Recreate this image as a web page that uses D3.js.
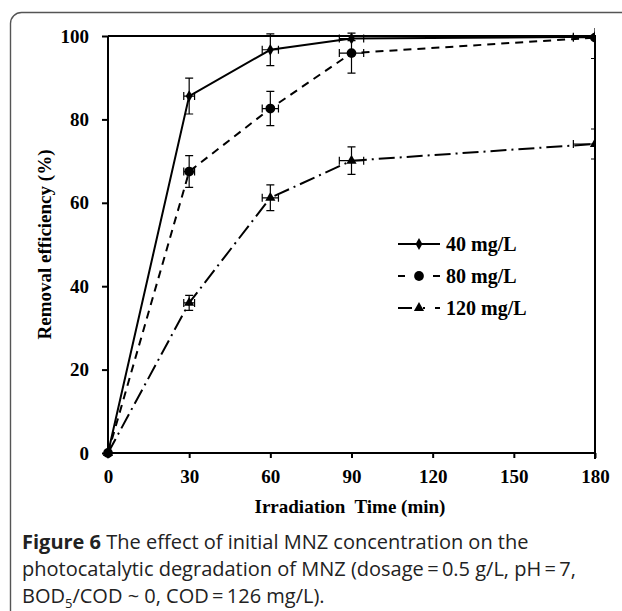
<!DOCTYPE html>
<html>
<head>
<meta charset="utf-8">
<script src="https://cdn.jsdelivr.net/npm/d3@7/dist/d3.min.js"></script>
<style>
  body { margin: 0; background: #fff; }
  svg { display: block; }
</style>
</head>
<body>
<div id="board"></div>
<script>
'use strict';

// irradiation time (min) and removal efficiency (%)
var times = [0, 30, 60, 90, 180];
var series = ['40 mg/L', '80 mg/L', '120 mg/L'];
var eff40 = [0, 85.6, 96.7, 99.4, 99.8];
var eff80 = [0, 67.5, 82.6, 95.9, 99.6];
var eff120 = [0, 36.0, 61.2, 70.1, 74.1];
var errY40 = [0, 4.3, 3.8, 0.5, 0];
var errY80 = [0, 3.8, 4.1, 4.8, 5.0];
var errY120 = [0, 1.8, 3.1, 3.3, 3.6];
var errX = [0, 2, 3, 4.5, 8];
var xTicks = [0, 30, 60, 90, 120, 150, 180];
var yTicks = [0, 20, 40, 60, 80, 100];

var W = 622, H = 611;
var serif = '"Liberation Serif", "Times New Roman", serif';

var svg = d3.select('#board')
    .append('svg')
    .attr('width', W)
    .attr('height', H);

// rounded frame, cut off by the page on the right and bottom
svg.append('rect')
    .attr('x', 10.5)
    .attr('y', 12.5)
    .attr('width', 640)
    .attr('height', 640)
    .attr('rx', 11)
    .attr('fill', 'none')
    .attr('stroke', '#555')
    .attr('stroke-width', 1.4);

var x = d3.scaleLinear().domain([0, 180]).range([108, 595]);
var y = d3.scaleLinear().domain([0, 100]).range([453, 36]);

svg.append('clipPath')
    .attr('id', 'plot')
    .append('rect')
    .attr('x', x(0) - 8)
    .attr('y', y(100) - 8)
    .attr('width', x(180) - x(0) + 8)
    .attr('height', y(0) - y(100) + 16);

// top and right border of the plot area
svg.append('path')
    .attr('d', 'M' + x(0) + ',' + y(100) + 'H' + x(180) + 'V' + (y(0) + 6))
    .attr('fill', 'none')
    .attr('stroke', '#000')
    .attr('stroke-width', 2);

var xAxis = svg.append('g')
    .attr('transform', 'translate(0,' + y(0) + ')')
    .call(d3.axisBottom(x).tickValues(xTicks).tickSize(5).tickPadding(12));

var yAxis = svg.append('g')
    .attr('transform', 'translate(' + x(0) + ',0)')
    .call(d3.axisLeft(y).tickValues(yTicks).tickSize(6).tickPadding(13));

[xAxis, yAxis].forEach(function(g) {
    g.select('.domain').attr('stroke-width', 2);
    g.selectAll('.tick line').attr('stroke-width', 2);
    g.selectAll('.tick text')
        .attr('font-family', serif)
        .attr('font-weight', 'bold')
        .attr('font-size', 19)
        .attr('fill', '#000');
});
xAxis.select('.domain').attr('d', 'M' + x(0) + ',0H' + x(180));
yAxis.select('.domain').attr('d', 'M0,' + y(0) + 'V' + y(100));

svg.append('text')
    .attr('x', 350)
    .attr('y', 513)
    .attr('text-anchor', 'middle')
    .attr('font-family', serif)
    .attr('font-weight', 'bold')
    .attr('font-size', 19)
    .attr('xml:space', 'preserve')
    .text('Irradiation  Time (min)');

svg.append('text')
    .attr('transform', 'translate(51,' + y(50) + ') rotate(-90)')
    .attr('text-anchor', 'middle')
    .attr('font-family', serif)
    .attr('font-weight', 'bold')
    .attr('font-size', 19)
    .text('Removal efficiency (%)');

var styles = [
    { vals: eff40, err: errY40, dash: null, marker: d3.symbolDiamond, size: 40 },
    { vals: eff80, err: errY80, dash: '8,6', marker: d3.symbolCircle, size: 75 },
    { vals: eff120, err: errY120, dash: '16,5,2,5', marker: d3.symbolTriangle, size: 45 }
];
var legendDash = ['none', '7,28,7', '14,11,2,10,5,100'];

var line = d3.line()
    .x(function(d) { return x(d.t); })
    .y(function(d) { return y(d.v); });

var plot = svg.append('g').attr('clip-path', 'url(#plot)');

styles.forEach(function(s) {
    var pts = times.map(function(t, i) {
        return { t: t, v: s.vals[i], ey: s.err[i], ex: errX[i] };
    });

    plot.append('path')
        .datum(pts)
        .attr('d', line)
        .attr('fill', 'none')
        .attr('stroke', '#000')
        .attr('stroke-width', 2)
        .attr('stroke-dasharray', s.dash);

    var bars = plot.append('g')
        .selectAll('g')
        .data(pts.filter(function(d) { return d.ey > 0 || d.ex > 0; }))
        .enter()
        .append('g')
        .attr('stroke', '#000')
        .attr('stroke-width', 1.2)
        .attr('fill', 'none');

    bars.filter(function(d) { return d.ey > 0; })
        .append('path')
        .attr('d', function(d) {
            var cx = x(d.t), y0 = y(d.v - d.ey), y1 = y(d.v + d.ey);
            return 'M' + cx + ',' + y0 + 'V' + y1 +
                'M' + (cx - 4) + ',' + y0 + 'h8M' + (cx - 4) + ',' + y1 + 'h8';
        });

    bars.filter(function(d) { return d.ex > 0; })
        .append('path')
        .attr('d', function(d) {
            var cy = y(d.v), x0 = x(d.t - d.ex), x1 = x(d.t + d.ex);
            return 'M' + x0 + ',' + cy + 'H' + x1 +
                'M' + x0 + ',' + (cy - 4) + 'v8M' + x1 + ',' + (cy - 4) + 'v8';
        });

    plot.append('g')
        .selectAll('path')
        .data(pts)
        .enter()
        .append('path')
        .attr('transform', function(d) {
            return 'translate(' + x(d.t) + ',' + y(d.v) + ')';
        })
        .attr('d', d3.symbol().type(s.marker).size(s.size))
        .attr('fill', '#000');
});

// legend
var legend = svg.append('g')
    .selectAll('g')
    .data(series)
    .enter()
    .append('g')
    .attr('transform', function(d, i) {
        return 'translate(398,' + (244 + i * 32) + ')';
    });

legend.append('path')
    .attr('d', 'M0,0H42')
    .attr('stroke', '#000')
    .attr('stroke-width', 2)
    .attr('stroke-dasharray', function(d, i) { return legendDash[i]; });

legend.append('path')
    .attr('transform', 'translate(21,0)')
    .attr('d', function(d, i) {
        return d3.symbol().type(styles[i].marker).size(styles[i].size)();
    })
    .attr('fill', '#000');

legend.append('text')
    .attr('x', 48)
    .attr('dy', '0.33em')
    .attr('font-family', serif)
    .attr('font-weight', 'bold')
    .attr('font-size', 20)
    .text(function(d) { return d; });

// caption
var caption = svg.append('text')
    .attr('font-family', '"Open Sans", sans-serif')
    .attr('font-size', 20)
    .attr('fill', '#222');

var l1 = caption.append('tspan').attr('x', 22).attr('y', 549);
l1.append('tspan').attr('font-weight', 'bold').text('Figure 6');
l1.append('tspan').text(' The effect of initial MNZ concentration on the');
caption.append('tspan').attr('x', 22).attr('y', 576)
    .text('photocatalytic degradation of MNZ (dosage\u2009=\u20090.5 g/L, pH\u2009=\u20097,');
var l3 = caption.append('tspan').attr('x', 22).attr('y', 603);
l3.append('tspan').text('BOD');
l3.append('tspan').attr('font-size', 13).attr('dy', 5).text('5');
l3.append('tspan').attr('dy', -5).text('/COD ~ 0, COD\u2009=\u2009126 mg/L).');
</script>
</body>
</html>
